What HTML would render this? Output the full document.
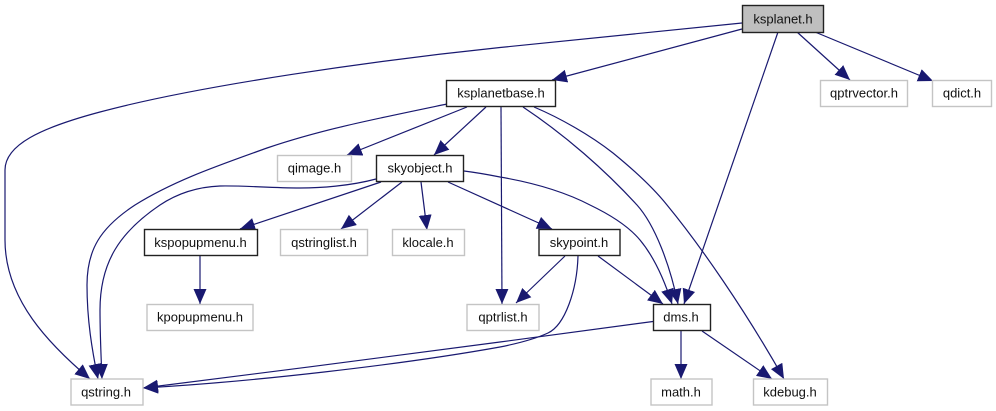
<!DOCTYPE html>
<html><head><meta charset="utf-8"><style>
html,body{margin:0;padding:0;background:#fff;width:996px;height:411px;overflow:hidden}
svg{display:block}
.e{fill:none;stroke:#191970;stroke-width:1.2;marker-end:url(#a)}
.b{fill:#fff;stroke:#222;stroke-width:1.4}
.g{fill:#fff;stroke:#c4c4c4;stroke-width:1.4}
text{font-family:"Liberation Sans",sans-serif;font-size:13px;text-anchor:middle;fill:#111}
</style></head><body>
<svg width="996" height="411" viewBox="0 0 996 411" xmlns="http://www.w3.org/2000/svg">
<defs><marker id="a" markerUnits="userSpaceOnUse" markerWidth="16" markerHeight="14" refX="15" refY="6.5" orient="auto"><path d="M0,0 L15,6.5 L0,13 Z" fill="#191970"/></marker></defs>
<path class="e" d="M742,23 L500,47.5 C380,60 200,85 100,112 C40,128 5,145 5,170 L5,240 C5,300 50,345 90,379"/>
<path class="e" d="M742,29 L552,80"/>
<path class="e" d="M778,32 L684,304"/>
<path class="e" d="M797,32 L850,80"/>
<path class="e" d="M815,32 L933,81"/>
<path class="e" d="M447,104 C370,120 320,130 267,148 C220,165 175,180 135,205 C100,228 87,250 87,285 C87,320 92,350 98,379"/>
<path class="e" d="M467,107 L347,155"/>
<path class="e" d="M486,107 L434,155"/>
<path class="e" d="M501,107 L502,304"/>
<path class="e" d="M523,107 C565,135 605,170 637,205 C655,225 670,265 678,304"/>
<path class="e" d="M534,107 C560,118 590,135 613,153 C640,175 655,190 667,205 C700,245 745,310 784,379"/>
<path class="e" d="M376,179 C350,186 320,188 300,188 C270,188 245,185.5 220,186 C195,187 175,195 160,205 C120,232 100,262 100,310 C100,335 101,355 102,379"/>
<path class="e" d="M464,171 C480,173 490,175 500,177 C535,183 565,192 590,205 C615,217 630,228 640,240 C655,258 665,282 672,304"/>
<path class="e" d="M381,182 L240,229"/>
<path class="e" d="M402,182 L341,229"/>
<path class="e" d="M421,182 L427,230"/>
<path class="e" d="M448,182 L552,229"/>
<path class="e" d="M200,256 L200,304"/>
<path class="e" d="M565,256 L516,303"/>
<path class="e" d="M598,256 L663,304"/>
<path class="e" d="M578,256 C577,290 565,325 548,333 C535,339 515,344 500,347 C400,365 250,382 143,388"/>
<path class="e" d="M653,321.5 L500,342 C400,355 250,375 143,388"/>
<path class="e" d="M681,331 L681,379"/>
<path class="e" d="M702,331 L772,379"/>
<rect x="742.5" y="5.5" width="81" height="27" fill="#bfbfbf" stroke="#222" stroke-width="1.4"/><text x="783" y="23.5">ksplanet.h</text>
<rect class="b" x="446.5" y="80.5" width="109" height="26"/><text x="501" y="97.5">ksplanetbase.h</text>
<rect class="g" x="820.5" y="80.5" width="87" height="26"/><text x="864" y="97.5">qptrvector.h</text>
<rect class="g" x="932.5" y="80.5" width="59" height="26"/><text x="962" y="97.5">qdict.h</text>
<rect class="g" x="277.5" y="155.5" width="74" height="26"/><text x="314.5" y="172.5">qimage.h</text>
<rect class="b" x="376.5" y="155.5" width="87" height="26"/><text x="420" y="172.5">skyobject.h</text>
<rect class="b" x="144.5" y="229.5" width="113" height="26"/><text x="200.5" y="247">kspopupmenu.h</text>
<rect class="g" x="280.5" y="229.5" width="87" height="26"/><text x="324" y="247">qstringlist.h</text>
<rect class="g" x="392.5" y="229.5" width="72" height="26"/><text x="428" y="247">klocale.h</text>
<rect class="b" x="539" y="229.5" width="81" height="26"/><text x="579" y="247">skypoint.h</text>
<rect class="g" x="147" y="304.5" width="106" height="26"/><text x="200" y="321.5">kpopupmenu.h</text>
<rect class="g" x="467" y="304.5" width="72" height="26"/><text x="503" y="321.5">qptrlist.h</text>
<rect class="b" x="653.5" y="304.5" width="57" height="26"/><text x="681" y="321.5">dms.h</text>
<rect class="g" x="71" y="379" width="72" height="26"/><text x="106" y="396.5">qstring.h</text>
<rect class="g" x="651" y="379" width="61" height="26"/><text x="681" y="396.5">math.h</text>
<rect class="g" x="753.5" y="379" width="74" height="26"/><text x="790" y="396.5">kdebug.h</text>
</svg>
</body></html>
